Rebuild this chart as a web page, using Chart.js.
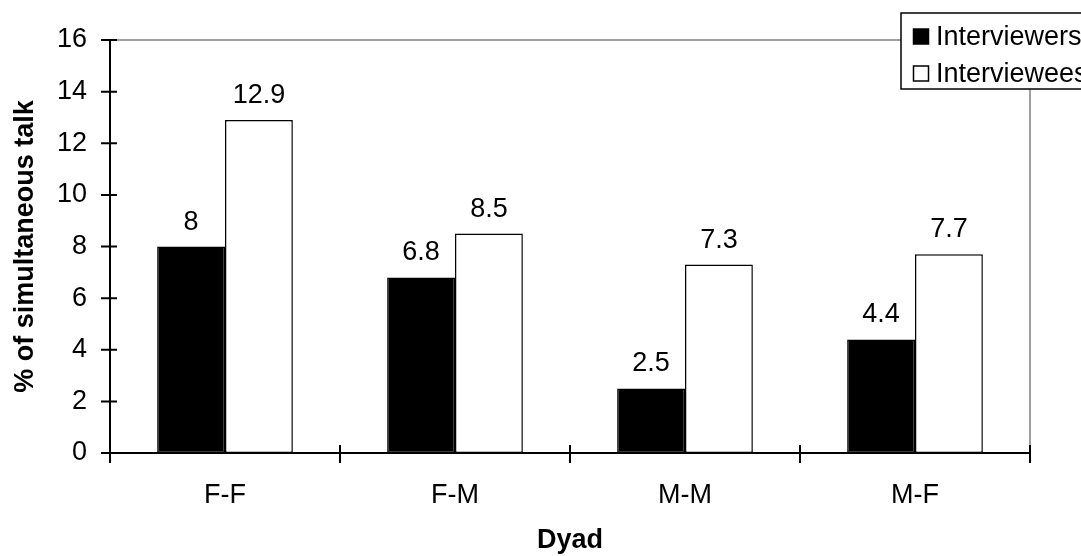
<!DOCTYPE html>
<html>
<head>
<meta charset="utf-8">
<script src="https://cdn.jsdelivr.net/npm/chart.js@4/dist/chart.umd.min.js"></script>
<style>
  html, body { margin: 0; padding: 0; background: #fff; overflow: hidden; }
  #wrap { width: 1081px; height: 556px; }
</style>
</head>
<body>
<div id="wrap"><canvas id="c" width="1081" height="556"></canvas></div>
<script>
// Simultaneous talk by dyad type
const dyads = ['F-F', 'F-M', 'M-M', 'M-F'];
const interviewers = [8, 6.8, 2.5, 4.4];
const interviewees = [12.9, 8.5, 7.3, 7.7];
const seriesNames = ['Interviewers', 'Interviewees'];

const FONT = 'Liberation Sans, Arial, Helvetica, sans-serif';
const SIZE = 27;

// Axis lines, crossing tick marks and the grey frame on top/right
const framePlugin = {
  id: 'frame',
  afterDraw(chart) {
    const {ctx, chartArea: a, scales: {x, y}} = chart;
    ctx.save();
    ctx.lineCap = 'butt';
    // grey frame
    ctx.strokeStyle = '#808080';
    ctx.lineWidth = 1.5;
    ctx.beginPath();
    ctx.moveTo(a.left, a.top);
    ctx.lineTo(a.right, a.top);
    ctx.lineTo(a.right, a.bottom);
    ctx.stroke();
    // axes
    ctx.strokeStyle = '#000';
    ctx.lineWidth = 2;
    ctx.beginPath();
    ctx.moveTo(a.left, a.top);
    ctx.lineTo(a.left, a.bottom + 10);
    ctx.moveTo(a.left - 9, a.bottom);
    ctx.lineTo(a.right, a.bottom);
    ctx.stroke();
    // y ticks
    ctx.beginPath();
    y.ticks.forEach(t => {
      const py = y.getPixelForValue(t.value);
      ctx.moveTo(a.left - 9, py);
      ctx.lineTo(a.left + 7, py);
    });
    // x ticks on category boundaries
    const half = (x.getPixelForValue(1) - x.getPixelForValue(0)) / 2;
    for (let i = 0; i <= dyads.length; i++) {
      const px = x.getPixelForValue(i) - half;
      ctx.moveTo(px, a.bottom - 8);
      ctx.lineTo(px, a.bottom + 10);
    }
    ctx.stroke();
    ctx.restore();
  }
};

// Value labels above each bar
const valueLabels = {
  id: 'valueLabels',
  afterDatasetsDraw(chart) {
    const {ctx} = chart;
    ctx.save();
    ctx.font = SIZE + 'px ' + FONT;
    ctx.fillStyle = '#000';
    ctx.textAlign = 'center';
    ctx.textBaseline = 'alphabetic';
    chart.data.datasets.forEach((ds, di) => {
      chart.getDatasetMeta(di).data.forEach((bar, i) => {
        ctx.fillText(String(ds.data[i]), bar.x, bar.y - 17);
      });
    });
    ctx.restore();
  }
};

// Boxed legend sitting over the top-right corner of the plot
const boxLegend = {
  id: 'boxLegend',
  afterDraw(chart) {
    const {ctx, chartArea: a} = chart;
    const bx = a.right - 129, by = a.top - 27, bh = 76;
    ctx.save();
    ctx.fillStyle = '#fff';
    ctx.fillRect(bx, by, 300, bh);
    ctx.strokeStyle = '#000';
    ctx.lineWidth = 1.5;
    ctx.strokeRect(bx, by, 300, bh);
    ctx.font = SIZE + 'px ' + FONT;
    ctx.textBaseline = 'alphabetic';
    ctx.textAlign = 'left';
    chart.data.datasets.forEach((ds, i) => {
      const base = by + 32 + i * 37;
      ctx.fillStyle = ds.backgroundColor;
      ctx.fillRect(bx + 12.5, base - 16, 15, 15);
      ctx.strokeStyle = '#000';
      ctx.lineWidth = 1.5;
      ctx.strokeRect(bx + 12.5, base - 16, 15, 15);
      ctx.fillStyle = '#000';
      ctx.fillText(ds.label, bx + 35, base);
    });
    ctx.restore();
  }
};

new Chart(document.getElementById('c'), {
  type: 'bar',
  data: {
    labels: dyads,
    datasets: [
      { label: seriesNames[0], data: interviewers, backgroundColor: '#000000', borderColor: '#000000', borderWidth: 1.5 },
      { label: seriesNames[1], data: interviewees, backgroundColor: '#ffffff', borderColor: '#000000', borderWidth: 1.5 }
    ]
  },
  options: {
    responsive: false,
    animation: false,
    devicePixelRatio: 1,
    layout: { padding: { top: 40, right: 51, left: 0, bottom: 0 } },
    datasets: { bar: { barPercentage: 1, categoryPercentage: 0.59, borderSkipped: false } },
    plugins: { legend: { display: false }, tooltip: { enabled: false } },
    scales: {
      x: {
        grid: { display: false, drawTicks: false },
        border: { display: false },
        ticks: { color: '#000', font: { family: FONT, size: SIZE }, padding: 26, maxRotation: 0 },
        title: { display: true, text: 'Dyad', color: '#000', font: { family: FONT, size: SIZE, weight: 'bold' }, padding: { top: 0, bottom: -1 } },
        afterFit(s) { s.height = 103; }
      },
      y: {
        min: 0, max: 16,
        grid: { display: false, drawTicks: false },
        border: { display: false },
        ticks: { stepSize: 2, color: '#000', font: { family: FONT, size: SIZE }, padding: 23 },
        title: { display: true, text: '% of simultaneous talk', color: '#000', font: { family: FONT, size: SIZE, weight: 'bold' }, padding: { top: 9, bottom: 0 } },
        afterFit(s) { s.width = 110; }
      }
    }
  },
  plugins: [framePlugin, valueLabels, boxLegend]
});
</script>
</body>
</html>
